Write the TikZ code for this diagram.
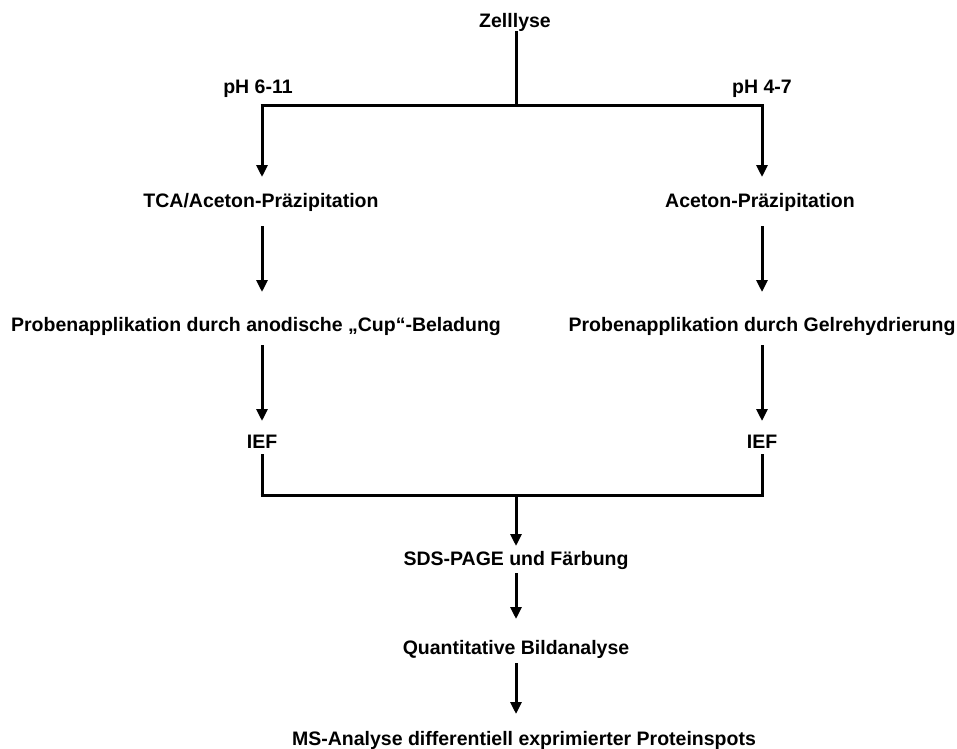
\documentclass[tikz,border=0pt]{standalone}
\usepackage{fontspec}
\setmainfont{Liberation Sans}
\usetikzlibrary{arrows.meta}
\begin{document}
\begin{tikzpicture}[x=1pt,y=-1pt,
  lbl/.style={font=\fontsize{19.5}{22}\selectfont\bfseries, inner sep=0pt, anchor=base},
  ln/.style={line width=3pt},
  arr/.style={line width=3pt, -{Triangle[length=12pt,width=11pt]}}]
\useasboundingbox (0,0) rectangle (957,748);
\node[lbl] (zell) at (515,27) {Zelllyse};
\node[lbl] (ph1) at (258,93) {pH 6-11};
\node[lbl] (ph2) at (762,93) {pH 4-7};
\coordinate (ztop) at (516,31);
\coordinate (top) at (516,105);
\coordinate (tl) at (262,105);
\coordinate (tr) at (762,105);
\node[lbl] (tca) at (261,207) {TCA/Aceton-Präzipitation};
\node[lbl] (ace) at (760,207) {Aceton-Präzipitation};
\node[lbl] (p1) at (256,331) {Probenapplikation durch anodische „Cup“-Beladung};
\node[lbl] (p2) at (762,331) {Probenapplikation durch Gelrehydrierung};
\node[lbl] (ief1) at (262,448) {IEF};
\node[lbl] (ief2) at (762,448) {IEF};
\coordinate (bl) at (262,495);
\coordinate (br) at (762,495);
\coordinate (bm) at (516,495);
\node[lbl] (sds) at (516,565) {SDS-PAGE und Färbung};
\node[lbl] (qb) at (516,654) {Quantitative Bildanalyse};
\node[lbl] (ms) at (524,745) {MS-Analyse differentiell exprimierter Proteinspots};

\draw[ln] (ztop) -- (top);
\draw[ln] ([xshift=-1.5pt]tl) -- ([xshift=1.5pt]tr);
\draw[arr] (tl) -- (262,177);
\draw[arr] (tr) -- (762,177);
\draw[arr] (262,226) -- (262,292);
\draw[arr] (762,226) -- (762,292);
\draw[arr] (262,345) -- (262,421);
\draw[arr] (762,345) -- (762,421);
\draw[ln] (262,454) -- (bl);
\draw[ln] (762,454) -- (br);
\draw[ln] ([xshift=-1.5pt]bl) -- ([xshift=1.5pt]br);
\draw[arr] (bm) -- (516,546);
\draw[arr] (516,573) -- (516,619);
\draw[arr] (516,663) -- (516,714);
\end{tikzpicture}
\end{document}
